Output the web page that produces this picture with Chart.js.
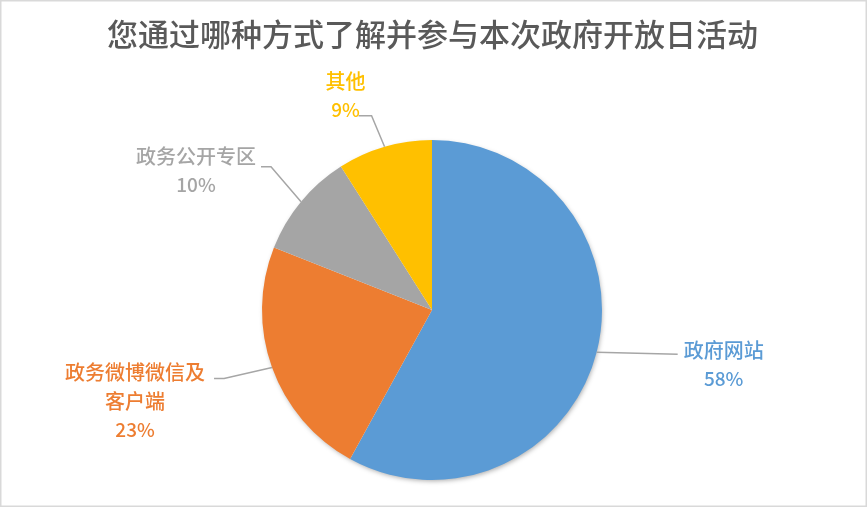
<!DOCTYPE html>
<html>
<head>
<meta charset="utf-8">
<script src="https://cdn.jsdelivr.net/npm/chart.js@4.4.0/dist/chart.umd.min.js"></script>
<style>
  html, body { margin: 0; padding: 0; background: #fff; }
  #wrap { width: 867px; height: 507px; position: relative; }
</style>
</head>
<body>
<div id="wrap"><canvas id="pieChart"></canvas></div>
<script>
const chartTitle = "您通过哪种方式了解并参与本次政府开放日活动";
const categories = ["政府网站", "政务微博微信及客户端", "政务公开专区", "其他"];
const shares = [58, 23, 10, 9];
const sliceColors = ["#5B9BD5", "#ED7D31", "#A5A5A5", "#FFC000"];

// label placement per slice: text lines, text centre offset from the slice's edge point,
// and leader line bend points (relative to the edge point)
const labelLayout = [
    { lines: ["政府网站"], dx: 127, dy: -2, path: [[81, 2]] },
    { lines: ["政务微博微信及", "客户端"], dx: -137, dy: 5, path: [[-48, 11], [-58, 11]] },
    { lines: ["政务公开专区"], dx: -105, dy: -45, path: [[-30, -35], [-40, -35]] },
    { lines: ["其他"], dx: -39, dy: -65, path: [[-13, -31], [-26, -31]] },
];

const fontFamily = '"Noto Sans CJK SC", "Noto Sans", sans-serif';

const decorPlugin = {
    id: "decor",
    beforeDraw(chart) {
        const ctx = chart.ctx;
        ctx.save();
        ctx.strokeStyle = "#D9D9D9";
        ctx.lineWidth = 1.5;
        ctx.strokeRect(0.75, 0.75, chart.width - 1.5, chart.height - 1.5);
        ctx.fillStyle = "#595959";
        ctx.font = "500 31px " + fontFamily;
        ctx.textAlign = "center";
        ctx.textBaseline = "middle";
        ctx.fillText(chartTitle, chart.width / 2 - 1, 34);
        ctx.restore();
    },
    beforeDatasetsDraw(chart) {
        const ctx = chart.ctx;
        ctx.save();
        ctx.shadowColor = "rgba(0,0,0,0.35)";
        ctx.shadowBlur = 5;
        ctx.shadowOffsetX = 1;
        ctx.shadowOffsetY = 2;
        const arc = chart.getDatasetMeta(0).data[0];
        ctx.beginPath();
        ctx.arc(arc.x, arc.y, arc.outerRadius - 1, 0, Math.PI * 2);
        ctx.fillStyle = "#ffffff";
        ctx.fill();
        ctx.restore();
    },
    afterDatasetsDraw(chart) {
        const ctx = chart.ctx;
        const meta = chart.getDatasetMeta(0);
        ctx.save();
        meta.data.forEach((arc, i) => {
            const p = arc.getProps(["x", "y", "startAngle", "endAngle", "outerRadius"], true);
            const mid = (p.startAngle + p.endAngle) / 2;
            const ex = p.x + Math.cos(mid) * p.outerRadius;
            const ey = p.y + Math.sin(mid) * p.outerRadius;
            const lay = labelLayout[i];

            ctx.strokeStyle = "#A6A6A6";
            ctx.lineWidth = 1.5;
            ctx.beginPath();
            ctx.moveTo(ex, ey);
            lay.path.forEach(([px, py]) => ctx.lineTo(ex + px, ey + py));
            ctx.stroke();

            ctx.fillStyle = sliceColors[i];
            ctx.font = "500 20px " + fontFamily;
            ctx.textAlign = "center";
            ctx.textBaseline = "middle";
            const cx = ex + lay.dx;
            let cy = ey + lay.dy;
            lay.lines.forEach((line) => {
                ctx.fillText(line, cx, cy);
                cy += 28.5;
            });
            ctx.font = "500 19px " + fontFamily;
            ctx.fillText(shares[i] + "%", cx, cy);
        });
        ctx.restore();
    },
};

new Chart(document.getElementById("pieChart").getContext("2d"), {
    type: "pie",
    data: {
        labels: categories,
        datasets: [
            {
                data: shares,
                backgroundColor: sliceColors,
                borderWidth: 0,
                hoverOffset: 0,
            },
        ],
    },
    options: {
        responsive: true,
        maintainAspectRatio: false,
        animation: false,
        layout: {
            padding: { left: 262, right: 265, top: 140, bottom: 27 },
        },
        plugins: {
            legend: { display: false },
            tooltip: { enabled: false },
        },
    },
    plugins: [decorPlugin],
});
</script>
</body>
</html>
